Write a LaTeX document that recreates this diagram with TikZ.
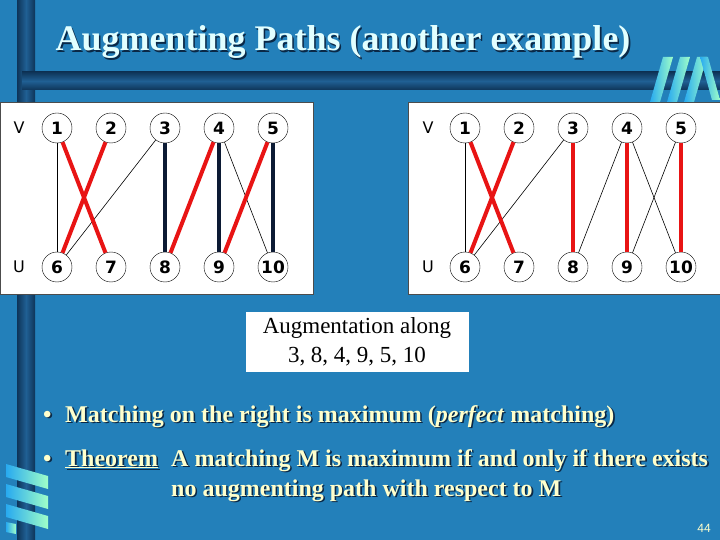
\documentclass[tikz,border=0pt]{standalone}
\usepackage{fontspec}
\setmainfont{Liberation Serif}
\setsansfont{DejaVu Sans}
\newfontfamily\pagenumfont{Liberation Sans}
\usepackage{tikz}

\definecolor{slideblue}{RGB}{35,128,186}
\definecolor{bardark}{RGB}{14,52,88}
\definecolor{barmid}{RGB}{32,96,148}
\definecolor{titlecol}{RGB}{226,255,255}
\definecolor{bulletcol}{RGB}{255,255,204}
\definecolor{shadowcol}{RGB}{10,40,70}
\definecolor{redge}{RGB}{232,20,20}
\definecolor{navyedge}{RGB}{12,26,52}
\definecolor{logoleft}{RGB}{40,170,240}
\definecolor{logoright}{RGB}{160,255,200}

\newcommand{\shadowtext}[1]{\makebox[0pt][l]{\hspace{1.6pt}\raisebox{-1.6pt}{\color{shadowcol}#1}}#1}

\begin{document}
\begin{tikzpicture}[x=1pt,y=-1pt,vtx/.style={circle,draw,fill=white,inner sep=0pt,minimum size=30pt,font=\sffamily\bfseries\fontsize{17}{17}\selectfont},side/.style={font=\sffamily\fontsize{16}{16}\selectfont},thin edge/.style={black,line width=0.6pt},red edge/.style={redge,line width=4pt},navy edge/.style={navyedge,line width=4pt},panel/.style={draw=black!70,fill=white,line width=0.8pt},bullet text/.style={anchor=base west,inner sep=0pt,text=bulletcol,font=\bfseries\fontsize{24}{24}\selectfont},logo/.style={left color=logoleft,right color=logoright}]
\fill[slideblue] (0,0) rectangle (720,540);
\useasboundingbox (0,0) rectangle (720,540);
\shade[left color=bardark,right color=bardark,middle color=barmid] (17,0) rectangle (35,540);
\shade[top color=bardark,bottom color=bardark,middle color=barmid] (22,72) rectangle (720,90);
\foreach \x in {650,667,684} {
   \shade[logo] (\x,102) -- (\x+10,102) -- (\x+23,57) -- (\x+13,57) -- cycle;
}
\shade[logo] (700,57) -- (708,57) -- (720,100) -- (712,100) -- cycle;
\foreach \y in {464,484,504} {
   \shade[logo] (6,\y) -- (48,\y+12) -- (48,\y+25) -- (6,\y+13) -- cycle;
}
\shade[logo] (6,522) -- (16,524) -- (16,534) -- (6,532) -- cycle;
\node[text=titlecol,font=\bfseries\fontsize{36}{36}\selectfont] (title) at (343,43) {\shadowtext{Augmenting Paths (another example)}};
\draw[panel] (0,102) rectangle (313,294);
\draw[panel] (408,102) rectangle (722,294);
\node[side] (lv) at (19,128) {V};
\node[side] (lu) at (19,267) {U};
\node[side] (rv) at (428,128) {V};
\node[side] (ru) at (428,267) {U};
\foreach \i/\j in %
{1/6,2/7,3/8,4/9,5/10} {
   \node[vtx] (l\i) at (3+54*\i,128) {\i};
   \node[vtx] (l\j) at (3+54*\i,267) {\j};
   \node[vtx] (r\i) at (411+54*\i,128) {\i};
   \node[vtx] (r\j) at (411+54*\i,267) {\j};
}
\foreach \a/\b in {1/6,3/6,4/10} \draw[thin edge] (l\a) -- (l\b);
\foreach \a/\b in {1/7,2/6,4/8,5/9} \draw[red edge] (l\a) -- (l\b);
\foreach \a/\b in {3/8,4/9,5/10} \draw[navy edge] (l\a) -- (l\b);
\foreach \a/\b in {1/6,3/6,4/8,4/10,5/9} \draw[thin edge] (r\a) -- (r\b);
\foreach \a/\b in {1/7,2/6,3/8,4/9,5/10} \draw[red edge] (r\a) -- (r\b);
\node[fill=white,minimum width=223pt,minimum height=60pt,align=center,font=\fontsize{23}{29}\selectfont] (augbox) at (357,342) {Augmentation along\\3, 8, 4, 9, 5, 10};
\node[bullet text] (bul1) at (43,422) {\shadowtext{•}};
\node[bullet text] (perfect) at (65,422) {\shadowtext{Matching on the right is maximum (\textit{perfect} matching)}};
\node[bullet text] (bul2) at (43,466) {\shadowtext{•}};
\node[bullet text] (theorem) at (65,466) {\shadowtext{\underline{Theorem}}};
\node[bullet text] (statement) at (171,466) {\shadowtext{A matching M is maximum if and only if there exists}};
\node[bullet text] (statement2) at (171,496) {\shadowtext{no augmenting path with respect to M}};
\node[text=bulletcol,font=\pagenumfont\fontsize{12}{12}\selectfont] (pagenum) at (704,528) {44};
\end{tikzpicture}
\end{document}
